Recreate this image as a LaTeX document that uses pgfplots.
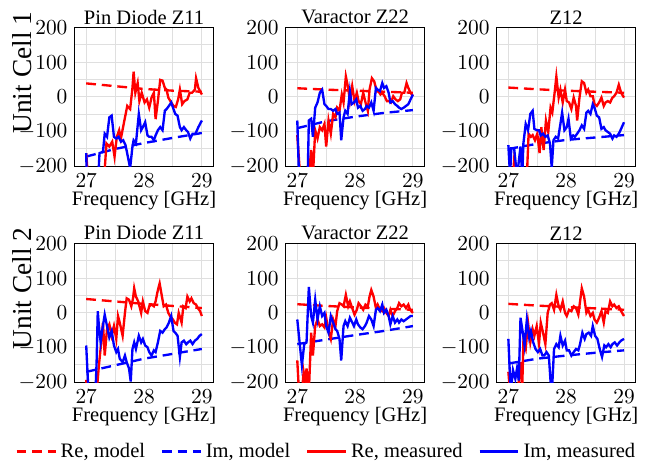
\documentclass[border=0pt]{standalone}
\usepackage{fontspec}
\setmainfont{Liberation Serif}
\usepackage{pgfplots}
\pgfplotsset{compat=1.18}
\usepgfplotslibrary{groupplots}
\begin{document}
\fontsize{10.5}{12.6}\selectfont
\begin{tikzpicture}
\begin{groupplot}[
  group style={group size=3 by 2, horizontal sep=37pt, vertical sep=39.5pt},
  scale only axis, width=71pt, height=71pt,
  xmin=26.8, xmax=29.2, ymin=-200, ymax=200,
  xtick={27,28,29}, minor xtick={27.5,28.5},
  ytick={-200,-100,0,100,200}, minor ytick={-150,-50,50,150},
  grid=both, grid style={gray!25, line width=0.5pt}, minor grid style={gray!25, line width=0.5pt},
  xlabel={Frequency [GHz]},
  xlabel style={yshift=5pt},
  title style={yshift=-8pt},
  ylabel style={font=\fontsize{14}{16}\selectfont, at={(rel axis cs:-0.377,0.675)}, anchor=center},
  tick style={draw=none},
  legend image code/.code={\draw[#1] (0cm,0cm) -- (0.7cm,0cm);},
  every axis plot/.append style={line width=1.2pt},
]
% ---------- Row 1, Pin Diode Z11
\nextgroupplot[title={Pin Diode Z11}, ylabel={Unit Cell 1}]
\addplot[red, dash pattern=on 5pt off 3pt] coordinates {(27,39) (27.5,31) (28,23) (28.5,18) (29,15)};
\addplot[blue, dash pattern=on 5pt off 3pt] coordinates {(27,-172) (27.5,-150) (28,-133) (28.5,-118) (29,-104)};
\addplot[red] coordinates {(27.00,-162) (27.03,-230) (27.30,-230) (27.32,-210) (27.35,-134) (27.40,-143) (27.45,-129) (27.49,-172) (27.53,-115) (27.57,-96) (27.60,-120) (27.66,-68) (27.71,-26) (27.76,-35) (27.80,26) (27.82,73) (27.85,12) (27.89,40) (27.92,-12) (27.96,12) (28.01,-16) (28.05,-7) (28.09,-31) (28.13,-2) (28.17,12) (28.20,-64) (28.24,-12) (28.28,49) (28.32,47) (28.36,26) (28.39,21) (28.42,-2) (28.47,-16) (28.51,-26) (28.55,-29) (28.59,-7) (28.62,21) (28.66,-21) (28.70,-12) (28.75,-7) (28.79,12) (28.83,12) (28.88,21) (28.90,54) (28.94,26) (29.00,7)};
\addplot[blue] coordinates {(27.00,-162) (27.01,-230) (27.21,-230) (27.23,-162) (27.29,-158) (27.32,-106) (27.36,-115) (27.40,-59) (27.44,-54) (27.48,-115) (27.52,-120) (27.56,-115) (27.60,-129) (27.64,-125) (27.68,-139) (27.72,-172) (27.76,-205) (27.80,-143) (27.82,-125) (27.86,-134) (27.91,-49) (27.95,-96) (27.98,-87) (28.02,-73) (28.06,-111) (28.09,-115) (28.13,-115) (28.17,-125) (28.20,-111) (28.24,-96) (28.28,-87) (28.32,-96) (28.36,-40) (28.39,-35) (28.43,-26) (28.47,-16) (28.51,-35) (28.54,-49) (28.58,-54) (28.62,-87) (28.65,-96) (28.69,-87) (28.73,-96) (28.76,-101) (28.80,-120) (28.84,-106) (28.89,-106) (28.94,-87) (29.00,-68)};
% ---------- Row 1, Varactor Z22
\nextgroupplot[title={Varactor Z22}]
\addplot[red, dash pattern=on 5pt off 3pt] coordinates {(27,25) (27.5,21) (28,18) (28.5,15) (29,12)};
\addplot[blue, dash pattern=on 5pt off 3pt] coordinates {(27,-90) (27.5,-70) (28,-57) (28.5,-46) (29,-38)};
\addplot[red] coordinates {(27.00,-110) (27.05,-230) (27.20,-230) (27.24,-153) (27.27,-230) (27.31,-96) (27.35,-120) (27.39,-87) (27.43,-96) (27.47,-78) (27.50,-143) (27.54,-68) (27.58,-106) (27.62,-49) (27.66,-59) (27.69,-31) (27.73,-40) (27.77,7) (27.80,-16) (27.84,59) (27.88,26) (27.91,-12) (27.95,31) (27.99,-12) (28.03,12) (28.06,-12) (28.10,-21) (28.14,12) (28.18,-16) (28.22,-40) (28.25,21) (28.29,54) (28.33,45) (28.36,26) (28.40,17) (28.44,7) (28.47,12) (28.51,2) (28.55,-12) (28.59,-12) (28.62,-16) (28.66,2) (28.70,-7) (28.74,-12) (28.78,-7) (28.81,12) (28.85,12) (28.89,40) (28.92,26) (28.96,12) (29.00,2)};
\addplot[blue] coordinates {(27.00,-68) (27.03,-230) (27.18,-230) (27.20,-68) (27.24,-63) (27.27,-115) (27.31,-31) (27.35,-16) (27.39,12) (27.43,21) (27.47,-21) (27.50,-26) (27.54,-35) (27.58,-35) (27.62,-40) (27.66,-35) (27.69,-49) (27.73,-45) (27.76,-125) (27.80,-59) (27.83,-40) (27.87,-49) (27.91,16) (27.94,-21) (27.98,-16) (28.02,-7) (28.05,-31) (28.09,-26) (28.13,-40) (28.17,-35) (28.20,-26) (28.24,-31) (28.28,-16) (28.32,-40) (28.36,26) (28.39,21) (28.43,17) (28.47,40) (28.50,26) (28.54,31) (28.58,12) (28.61,-16) (28.65,-12) (28.69,-21) (28.73,-26) (28.76,-31) (28.80,-35) (28.84,-31) (28.88,-26) (28.92,-21) (28.96,-7) (29.00,7)};
% ---------- Row 1, Z12
\nextgroupplot[title={Z12}]
\addplot[red, dash pattern=on 5pt off 3pt] coordinates {(27,27) (27.5,22) (28,18) (28.5,15) (29,12)};
\addplot[blue, dash pattern=on 5pt off 3pt] coordinates {(27,-150) (27.5,-135) (28,-124) (28.5,-117) (29,-110)};
\addplot[red] coordinates {(27.00,-230) (27.08,-230) (27.10,-181) (27.15,-230) (27.32,-230) (27.35,-106) (27.39,-115) (27.42,-110) (27.46,-125) (27.50,-106) (27.54,-162) (27.57,-87) (27.61,-153) (27.65,-68) (27.69,-101) (27.73,-31) (27.76,-45) (27.80,12) (27.83,59) (27.87,-2) (27.90,21) (27.94,-16) (27.98,21) (28.01,-12) (28.05,-16) (28.09,-35) (28.13,-2) (28.17,-26) (28.19,-68) (28.23,-2) (28.27,45) (28.31,40) (28.35,12) (28.38,21) (28.42,2) (28.46,2) (28.49,-21) (28.53,-26) (28.57,-16) (28.61,-2) (28.65,-26) (28.68,-16) (28.72,-12) (28.76,-16) (28.80,-2) (28.83,2) (28.87,12) (28.91,35) (28.95,12) (29.00,-2)};
\addplot[blue] coordinates {(27.00,-139) (27.03,-230) (27.05,-148) (27.10,-148) (27.15,-230) (27.21,-143) (27.24,-230) (27.26,-134) (27.30,-78) (27.34,-96) (27.38,-49) (27.42,-40) (27.45,-92) (27.49,-96) (27.53,-96) (27.56,-111) (27.60,-106) (27.64,-115) (27.68,-111) (27.72,-134) (27.75,-205) (27.78,-125) (27.82,-115) (27.86,-120) (27.90,-78) (27.93,-45) (27.97,-96) (28.01,-87) (28.04,-63) (28.08,-120) (28.12,-111) (28.15,-115) (28.19,-106) (28.23,-96) (28.27,-82) (28.31,-92) (28.35,-45) (28.38,-40) (28.42,-49) (28.46,-21) (28.49,-31) (28.53,-54) (28.57,-59) (28.61,-92) (28.65,-87) (28.68,-96) (28.72,-101) (28.76,-106) (28.80,-120) (28.83,-111) (28.87,-115) (28.91,-106) (28.95,-92) (29.00,-73)};
% ---------- Row 2, Pin Diode Z11
\nextgroupplot[title={Pin Diode Z11}, ylabel={Unit Cell 2}]
\addplot[red, dash pattern=on 5pt off 3pt] coordinates {(27,40) (27.5,33) (28,26) (28.5,20) (29,14)};
\addplot[blue, dash pattern=on 5pt off 3pt] coordinates {(27,-170) (27.5,-151) (28,-132) (28.5,-118) (29,-104)};
\addplot[red] coordinates {(27.00,-193) (27.02,-230) (27.18,-230) (27.22,-151) (27.26,-85) (27.29,-28) (27.32,-123) (27.36,-47) (27.40,-33) (27.44,-66) (27.48,-38) (27.52,-75) (27.55,-9) (27.58,-28) (27.63,-66) (27.67,0) (27.70,42) (27.74,38) (27.78,19) (27.81,42) (27.83,71) (27.86,47) (27.90,33) (27.95,0) (27.98,33) (28.02,5) (28.06,0) (28.09,19) (28.13,24) (28.17,19) (28.20,33) (28.24,66) (28.27,85) (28.31,47) (28.34,19) (28.38,24) (28.42,0) (28.45,-9) (28.50,-19) (28.53,-28) (28.57,-33) (28.60,0) (28.65,-28) (28.68,19) (28.72,14) (28.75,47) (28.79,33) (28.82,42) (28.86,28) (28.90,24) (28.93,14) (28.97,5) (29.00,-9)};
\addplot[blue] coordinates {(27.00,-94) (27.04,-230) (27.16,-230) (27.18,-142) (27.20,5) (27.22,-38) (27.25,-85) (27.28,-47) (27.32,-5) (27.36,-38) (27.40,-71) (27.44,-52) (27.48,-94) (27.52,-113) (27.55,-104) (27.58,-132) (27.63,-142) (27.67,-123) (27.70,-142) (27.74,-160) (27.77,-198) (27.80,-104) (27.83,-85) (27.86,-104) (27.91,-66) (27.95,-85) (27.98,-75) (28.02,-94) (28.06,-99) (28.09,-113) (28.13,-123) (28.17,-108) (28.20,-113) (28.24,-85) (28.28,-52) (28.32,-57) (28.36,-47) (28.39,-42) (28.43,-28) (28.47,-9) (28.51,-52) (28.54,-57) (28.58,-66) (28.62,-127) (28.65,-85) (28.69,-80) (28.73,-90) (28.76,-85) (28.80,-80) (28.84,-90) (28.88,-80) (28.92,-75) (28.96,-66) (29.00,-61)};
% ---------- Row 2, Varactor Z22
\nextgroupplot[title={Varactor Z22},
  legend style={at={(0.30,-0.50)}, anchor=center, legend columns=4, draw=none, fill=none,
    /tikz/every even column/.append style={column sep=6pt}}]
\addplot[red, dash pattern=on 5pt off 3pt] coordinates {(27,25) (27.5,20) (28,16) (28.5,12) (29,9)};
\addlegendentry{Re, model}
\addplot[blue, dash pattern=on 5pt off 3pt] coordinates {(27,-90) (27.5,-77) (28,-64) (28.5,-52) (29,-38)};
\addlegendentry{Im, model}
\addplot[red] coordinates {(27.00,-137) (27.03,-230) (27.08,-230) (27.11,-170) (27.14,-200) (27.16,-160) (27.20,-230) (27.24,-57) (27.27,-123) (27.31,-38) (27.35,-19) (27.39,-38) (27.43,-33) (27.47,-42) (27.50,-14) (27.54,-52) (27.58,-75) (27.62,-19) (27.66,-38) (27.69,5) (27.73,28) (27.77,24) (27.80,19) (27.84,52) (27.88,19) (27.91,33) (27.95,14) (27.99,-5) (28.03,9) (28.06,28) (28.10,19) (28.14,9) (28.18,24) (28.22,19) (28.25,47) (28.28,66) (28.32,47) (28.36,14) (28.39,24) (28.43,9) (28.47,5) (28.50,14) (28.54,0) (28.58,-9) (28.61,9) (28.65,-9) (28.69,5) (28.73,14) (28.76,28) (28.80,19) (28.84,24) (28.88,14) (28.92,24) (28.95,9) (29.00,0)};
\addlegendentry{Re, measured}
\addplot[blue] coordinates {(27.00,-19) (27.04,-85) (27.08,-151) (27.12,-90) (27.16,-85) (27.20,75) (27.24,-9) (27.27,-28) (27.31,38) (27.35,-19) (27.39,19) (27.43,-9) (27.47,0) (27.50,-38) (27.54,-57) (27.58,-9) (27.62,-28) (27.66,-47) (27.69,-52) (27.73,-75) (27.76,-137) (27.80,-38) (27.83,-24) (27.87,-38) (27.91,-14) (27.94,-24) (27.98,-38) (28.02,-19) (28.05,-33) (28.09,-42) (28.13,-47) (28.17,-38) (28.20,-28) (28.24,-9) (28.28,-19) (28.32,-38) (28.36,9) (28.39,14) (28.43,5) (28.47,24) (28.50,0) (28.54,9) (28.58,-9) (28.61,-33) (28.65,-9) (28.69,-28) (28.73,-19) (28.76,-28) (28.80,-19) (28.84,-24) (28.88,-19) (28.92,-14) (28.96,-9) (29.00,-9)};
\addlegendentry{Im, measured}
% ---------- Row 2, Z12
\nextgroupplot[title={Z12}]
\addplot[red, dash pattern=on 5pt off 3pt] coordinates {(27,26) (27.5,21) (28,17) (28.5,13) (29,9)};
\addplot[blue, dash pattern=on 5pt off 3pt] coordinates {(27,-146) (27.5,-132) (28,-123) (28.5,-115) (29,-108)};
\addplot[red] coordinates {(27.00,-170) (27.03,-230) (27.12,-230) (27.18,-200) (27.21,-142) (27.24,-215) (27.26,-85) (27.30,-104) (27.34,-28) (27.38,-85) (27.42,-47) (27.45,-66) (27.49,-38) (27.53,-90) (27.56,-28) (27.60,-57) (27.64,-90) (27.68,0) (27.72,24) (27.75,28) (27.79,9) (27.83,52) (27.87,19) (27.90,9) (27.94,33) (27.98,0) (28.01,-9) (28.05,9) (28.09,5) (28.13,19) (28.17,14) (28.21,-5) (28.24,33) (28.27,71) (28.31,47) (28.35,0) (28.38,9) (28.42,-9) (28.46,0) (28.49,-19) (28.53,-28) (28.57,-14) (28.61,5) (28.65,-28) (28.68,5) (28.72,0) (28.76,33) (28.80,19) (28.83,24) (28.87,14) (28.91,19) (28.95,5) (29.00,-9)};
\addplot[blue] coordinates {(27.00,-75) (27.04,-230) (27.08,-165) (27.12,-190) (27.15,-160) (27.18,-195) (27.21,-14) (27.25,-57) (27.28,-94) (27.32,-19) (27.36,-71) (27.39,-52) (27.43,-85) (27.47,-104) (27.51,-113) (27.55,-104) (27.59,-123) (27.62,-123) (27.66,-113) (27.70,-123) (27.73,-198) (27.76,-205) (27.79,-104) (27.83,-90) (27.87,-99) (27.90,-66) (27.94,-94) (27.98,-80) (28.01,-108) (28.05,-108) (28.09,-123) (28.13,-113) (28.17,-104) (28.21,-108) (28.24,-90) (28.28,-57) (28.32,-75) (28.35,-61) (28.39,-57) (28.43,-66) (28.46,-38) (28.50,-66) (28.54,-75) (28.58,-104) (28.62,-127) (28.66,-94) (28.69,-99) (28.73,-90) (28.77,-99) (28.80,-90) (28.84,-85) (28.88,-94) (28.92,-85) (28.95,-80) (29.00,-75)};
\end{groupplot}
\path (current bounding box.south west) ++(-3pt,-3pt) (current bounding box.north east) ++(2pt,1.5pt);
\end{tikzpicture}
\end{document}
